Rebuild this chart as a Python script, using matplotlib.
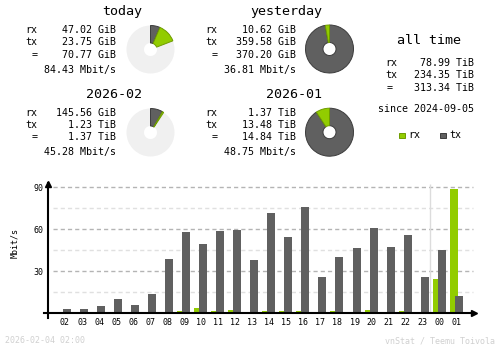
import numpy as np
import matplotlib
matplotlib.use('Agg')
import matplotlib.pyplot as plt
from matplotlib.patches import Rectangle

# colours (vnStat defaults)
rx_col = '#92cc00'
tx_col = '#606060'
rx_edge = '#6f9c00'
tx_edge = '#3c3c3c'
empty_col = '#f0f0f0'
foot_col = '#d0d0d0'
font = 'DejaVu Sans Mono'

# summary blocks: title, rx, tx, total, average rate
titles = ['today', 'yesterday', '2026-02', '2026-01']
rx_txt = ['47.02 GiB', '10.62 GiB', '145.56 GiB', '1.37 TiB']
tx_txt = ['23.75 GiB', '359.58 GiB', '1.23 TiB', '13.48 TiB']
tot_txt = ['70.77 GiB', '370.20 GiB', '1.37 TiB', '14.84 TiB']
rate_txt = ['84.43 Mbit/s', '36.81 Mbit/s', '45.28 Mbit/s', '48.75 Mbit/s']

alltime = ['78.99 TiB', '234.35 TiB', '313.34 TiB']
since = '2024-09-05'

# hourly average rate, Mbit/s
hours = ['02', '03', '04', '05', '06', '07', '08', '09', '10', '11', '12', '13',
         '14', '15', '16', '17', '18', '19', '20', '21', '22', '23', '00', '01']
hour_rx = [0.9, 0, 0, 0, 0.8, 0, 0.8, 1.7, 3.8, 1.7, 2.4, 0.8,
           1.7, 1.7, 1.7, 0.8, 1.7, 0.8, 2.4, 0.8, 1.7, 0, 24.5, 88.8]
hour_tx = [3.1, 3.1, 5.2, 10.2, 6.0, 13.8, 38.8, 58.1, 49.5, 58.8, 59.5, 38.1,
           71.7, 54.5, 76.0, 26.0, 40.2, 46.7, 61.0, 47.4, 56.0, 26.0, 45.2, 12.4]
yticks = [30, 60, 90]


def gib(s):
    v, u = s.split()
    return float(v) * (1024 if u == 'TiB' else 1)


W, H = 500, 348
fig = plt.figure(figsize=(W / 100, H / 100), dpi=100)
bg = fig.add_axes([0, 0, 1, 1])
bg.set_xlim(0, W)
bg.set_ylim(H, 0)
bg.axis('off')

fs_big, fs, fs_small = 9.6, 7.2, 6.0

# block offsets (x, y) in pixels
offsets = [(0, 0), (180, 0), (0, 82.5), (180, 82.5)]
for i, (dx, dy) in enumerate(offsets):
    bg.text(142 + dx, 15.5 + dy, titles[i], ha='right', va='baseline', fontsize=fs_big, family=font)
    rows = [('rx', rx_txt[i], 33), ('tx', tx_txt[i], 45), ('=', tot_txt[i], 58)]
    for lab, val, y in rows:
        if lab == '=':
            bg.text(35 + dx, y + dy, lab, ha='center', va='baseline', fontsize=fs, family=font)
        else:
            bg.text(25 + dx, y + dy, lab, ha='left', va='baseline', fontsize=fs, family=font)
        bg.text(115.5 + dx, y + dy, val, ha='right', va='baseline', fontsize=fs, family=font)
    bg.text(115.5 + dx, 72.7 + dy, rate_txt[i], ha='right', va='baseline', fontsize=fs, family=font)

# pies: today vs yesterday, this month vs last month scale
centers = [(150.5, 49.5), (329.5, 49.0), (150.5, 132.5), (329.5, 132.2)]
R = 24.0
for i, (cx, cy) in enumerate(centers):
    pair = [0, 1] if i < 2 else [2, 3]
    ref = max(gib(rx_txt[j]) + gib(tx_txt[j]) for j in pair)
    r, t = gib(rx_txt[i]), gib(tx_txt[i])
    rest = max(0.0, ref - r - t)
    pax = fig.add_axes([(cx - 25) / W, 1 - (cy + 25) / H, 50 / W, 50 / H])
    vals = [t, r]
    cols = [tx_col, rx_col]
    edges = [tx_edge, rx_edge]
    if rest > 0.001 * ref:
        pax.pie([1], colors=[empty_col], radius=1, wedgeprops=dict(width=1 - 6.5 / R, linewidth=0))
        frac = (t + r) / ref
        vals = [t, r, ref - t - r]
        cols = [tx_col, rx_col, 'none']
        edges = [tx_edge, rx_edge, 'none']
    wedges, _ = pax.pie(vals, colors=cols, startangle=90, counterclock=False, radius=1,
                        wedgeprops=dict(width=1 - 6.5 / R, linewidth=0.7))
    for w, e in zip(wedges, edges):
        w.set_edgecolor(e)
    pax.set_xlim(-25 / R, 25 / R)
    pax.set_ylim(-25 / R, 25 / R)
    pax.set_aspect('auto')
    pax.axis('off')

# all time block
bg.text(429, 44, 'all time', ha='center', va='baseline', fontsize=fs_big, family=font)
for lab, val, y in zip(['rx', 'tx', '='], alltime, [66, 78, 91]):
    if lab == '=':
        bg.text(390, y, lab, ha='center', va='baseline', fontsize=fs, family=font)
    else:
        bg.text(385, y, lab, ha='left', va='baseline', fontsize=fs, family=font)
    bg.text(474.5, y, val, ha='right', va='baseline', fontsize=fs, family=font)
bg.text(426, 112, 'since ' + since, ha='center', va='baseline', fontsize=fs, family=font)

# legend
bg.add_patch(Rectangle((399, 132.5), 5.5, 5.5, facecolor=rx_col, edgecolor=rx_edge, lw=0.7))
bg.text(408, 138.5, 'rx', ha='left', va='baseline', fontsize=fs, family=font)
bg.add_patch(Rectangle((440, 132.5), 5.5, 5.5, facecolor=tx_col, edgecolor=tx_edge, lw=0.7))
bg.text(449.5, 138.5, 'tx', ha='left', va='baseline', fontsize=fs, family=font)

# hourly chart
x0, step = 65.0, 17.03      # pixel centre of first hour, pixels per hour
base, ppu = 313.3, 1.4       # baseline pixel, pixels per Mbit/s
left, right, top, bottom = 48.3, 477.0, 181.7, 317.7
ax = fig.add_axes([left / W, 1 - bottom / H, (right - left) / W, (bottom - top) / H])
ax.set_xlim((left - x0) / step, (right - x0) / step)
ax.set_ylim(-(bottom - base) / ppu, (base - top) / ppu)
for s in ax.spines.values():
    s.set_visible(False)
ax.patch.set_alpha(0)

x = np.arange(len(hours))
gx0, gx1 = (53 - x0) / step, (472.7 - x0) / step
ax.hlines([15, 45, 75], gx0, gx1, colors='#e0e0e0', lw=1, linestyles=(0, (3, 2.2)), zorder=1)
ax.hlines(yticks, gx0, gx1, colors='#b4b4b4', lw=1, linestyles=(0, (3, 2.2)), zorder=1)
ax.vlines(21.45, 0, (base - 184) / ppu, colors='#dcdcdc', lw=1, zorder=1)

bw = 8 / step
ax.bar(x - 3 / step, hour_rx, width=bw, color=rx_col, linewidth=0, zorder=2)
ax.bar(x + 2 / step, hour_tx, width=bw, color=tx_col, linewidth=0, zorder=3)

ylo, yhi = ax.get_ylim()
xlo, xhi = ax.get_xlim()
ax.plot([xlo, xlo], [ylo, yhi - 1], color='black', lw=1.5, clip_on=False, zorder=4)
ax.plot([xlo], [yhi - 1.5], marker='^', ms=4, color='black', clip_on=False, zorder=4)
ax.plot([(44.3 - x0) / step, xhi - 0.15], [0, 0], color='black', lw=1.5, clip_on=False, zorder=4)
ax.plot([xhi - 0.15], [0], marker='>', ms=4, color='black', clip_on=False, zorder=4)

ax.set_yticks(yticks)
ax.set_yticklabels([str(v) for v in yticks], fontsize=fs_small, family=font)
ax.set_xticks(x)
ax.set_xticklabels(hours, fontsize=fs_small, family=font)
ax.tick_params(axis='both', length=0)
ax.tick_params(axis='y', pad=3.8)
ax.tick_params(axis='x', pad=0.5)

bg.text(14.7, 243, 'Mbit/s', rotation=90, ha='center', va='center', fontsize=fs_small, family=font)

# footer
bg.text(5, 343, '2026-02-04 02:00', ha='left', va='baseline', fontsize=fs_small, family=font, color=foot_col)
bg.text(495, 343, 'vnStat / Teemu Toivola', ha='right', va='baseline', fontsize=fs_small, family=font, color=foot_col)

fig.savefig('out.png', dpi=100)
